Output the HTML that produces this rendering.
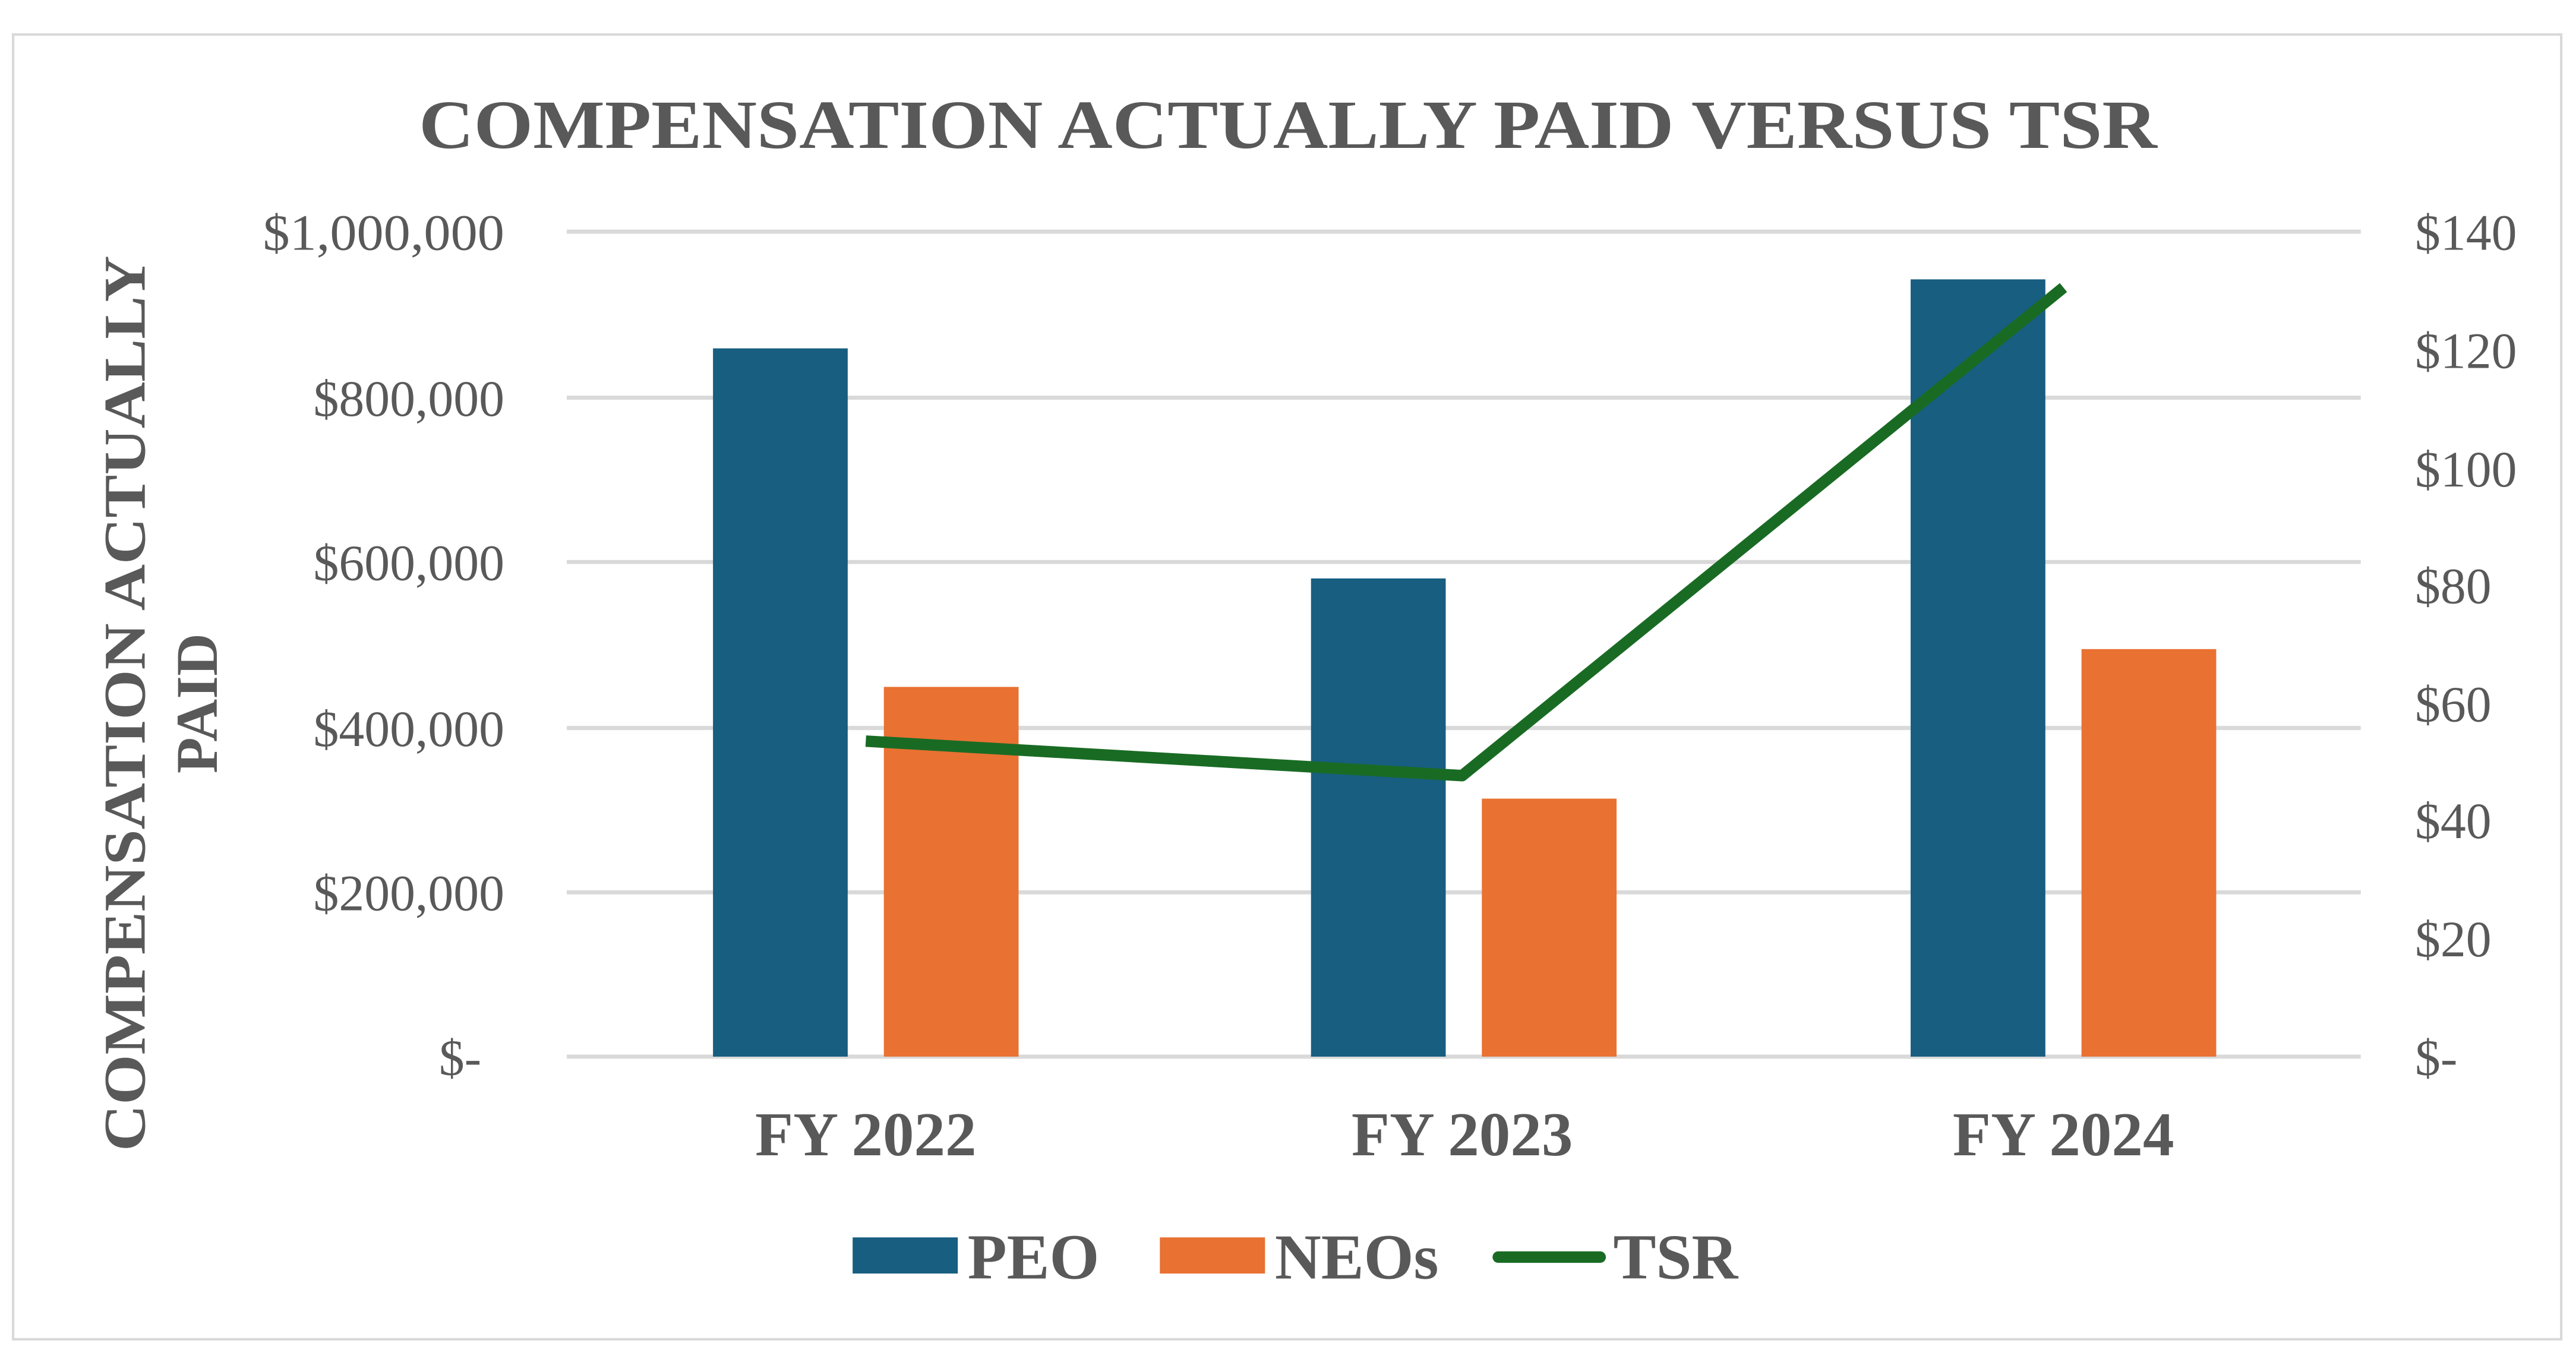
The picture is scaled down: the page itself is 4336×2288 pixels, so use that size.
<!DOCTYPE html>
<html><head><meta charset="utf-8"><style>html,body{margin:0;padding:0;background:#fff}svg{display:block}</style></head>
<body>
<svg width="4336" height="2288" viewBox="0 0 1568 827" preserveAspectRatio="none" xmlns="http://www.w3.org/2000/svg" font-family="'Liberation Serif', serif">
<rect x="0" y="0" width="1568" height="827" fill="#fff"/>
<rect x="8" y="21" width="1551" height="794" fill="none" stroke="#d9d9d9" stroke-width="1.5"/>
<text x="784" y="90" text-anchor="middle" font-size="42" font-weight="bold" fill="#595959" textLength="1058" lengthAdjust="spacingAndGlyphs">COMPENSATION ACTUALLY PAID VERSUS TSR</text>
<g stroke="#d9d9d9" stroke-width="2.5">
<line x1="345" x2="1437" y1="141" y2="141"/><line x1="345" x2="1437" y1="242" y2="242"/>
<line x1="345" x2="1437" y1="342" y2="342"/><line x1="345" x2="1437" y1="443" y2="443"/>
<line x1="345" x2="1437" y1="543" y2="543"/><line x1="345" x2="1437" y1="643" y2="643"/>
</g>
<g font-size="31" fill="#595959" text-anchor="end">
<text x="307" y="152" textLength="147" lengthAdjust="spacingAndGlyphs">$1,000,000</text>
<text x="307" y="253">$800,000</text><text x="307" y="353">$600,000</text>
<text x="307" y="454">$400,000</text><text x="307" y="554">$200,000</text>
<text x="293" y="654">$-</text>
</g>
<g font-size="31" fill="#595959">
<text x="1470" y="152">$140</text><text x="1470" y="224">$120</text><text x="1470" y="296">$100</text>
<text x="1470" y="367">$80</text><text x="1470" y="439">$60</text><text x="1470" y="510">$40</text>
<text x="1470" y="582">$20</text><text x="1470" y="654">$-</text>
</g>
<text transform="translate(88,428) rotate(-90)" text-anchor="middle" font-size="36" font-weight="bold" fill="#595959" textLength="545" lengthAdjust="spacingAndGlyphs">COMPENSATION ACTUALLY</text>
<text transform="translate(132,428) rotate(-90)" text-anchor="middle" font-size="36" font-weight="bold" fill="#595959">PAID</text>
<g fill="#175e81">
<rect x="434" y="212" width="82" height="431"/><rect x="798" y="352" width="82" height="291"/><rect x="1163" y="170" width="82" height="473"/>
</g>
<g fill="#e97132">
<rect x="538" y="418" width="82" height="225"/><rect x="902" y="486" width="82" height="157"/><rect x="1267" y="395" width="82" height="248"/>
</g>
<polyline points="527,451 890,472 1256,175" fill="none" stroke="#196b24" stroke-width="7" stroke-linejoin="round"/>
<g font-size="38" font-weight="bold" fill="#595959" text-anchor="middle">
<text x="527" y="703">FY 2022</text><text x="890" y="703">FY 2023</text><text x="1256" y="703">FY 2024</text>
</g>
<rect x="519" y="753" width="64" height="22" fill="#175e81"/>
<rect x="706" y="753" width="64" height="22" fill="#e97132"/>
<line x1="912" x2="974" y1="765" y2="765" stroke="#196b24" stroke-width="7" stroke-linecap="round"/>
<g font-size="39" font-weight="bold" fill="#595959">
<text x="589" y="778">PEO</text><text x="776" y="778">NEOs</text><text x="982" y="778">TSR</text>
</g>
</svg>
</body></html>
